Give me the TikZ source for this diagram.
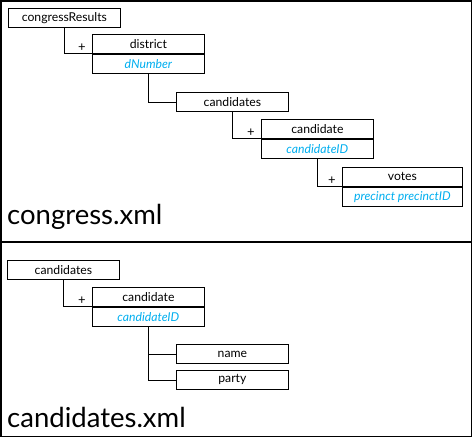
\documentclass[tikz,border=0pt]{standalone}
\usepackage{fontspec}
\setmainfont{Lato}
\usetikzlibrary{positioning}
\definecolor{keycyan}{RGB}{0,174,239}

\begin{document}
\begin{tikzpicture}[x=1pt,y=-1pt,
    elem/.style={draw,line width=0.8pt,minimum width=112pt,minimum height=19pt,inner sep=0pt,font=\fontsize{12.2}{13}\selectfont},
    attr/.style={elem,text=keycyan,font=\fontsize{12.2}{13}\selectfont\itshape},
    link/.style={line width=0.8pt},
    plus/.style={anchor=south east,inner sep=1pt,xshift=-5pt,yshift=1pt,font=\fontsize{13}{14}\selectfont},
    title/.style={anchor=base west,inner sep=0pt,font=\fontsize{27.5}{32}\selectfont}]
    \useasboundingbox (0,0) rectangle (472,437);
    \draw[line width=1.5pt] (0.75,0.75) rectangle (471.25,436.25);
    \draw[line width=1.2pt] (0,242) -- (472,242);

    % congress.xml
    \node[elem,anchor=north west] (congressResults) at (8,8) {congressResults};
    \node[elem,anchor=north west] (district) at (92,34) {district};
    \node[attr,below=0pt of district] (dNumber) {dNumber};
    \node[elem,anchor=north west] (candidates) at (176,92) {candidates};
    \node[elem,anchor=north west] (candidate) at (261,119) {candidate};
    \node[attr,below=0pt of candidate] (candidateID) {candidateID};
    \node[elem,anchor=north west,minimum width=120pt] (votes) at (342,167) {votes};
    \node[attr,minimum width=120pt,below=0pt of votes] (precinct) {precinct precinctID};
    \node[title] (congressXml) at (7,224) {congress.xml};

    \draw[link] (congressResults.south) |- (district.south west) node[plus] {+};
    \draw[link] (dNumber.south) |- (candidates.west);
    \draw[link] (candidates.south) |- (candidate.south west) node[plus] {+};
    \draw[link] (candidateID.south) |- (votes.south west) node[plus] {+};

    % candidates.xml
    \node[elem,anchor=north west] (candidatesB) at (7,260) {candidates};
    \node[elem,anchor=north west] (candidateB) at (92,287) {candidate};
    \node[attr,below=0pt of candidateB] (candidateIDB) {candidateID};
    \node[elem,anchor=north west] (name) at (176,344) {name};
    \node[elem,anchor=north west] (party) at (176,370) {party};
    \node[title] (candidatesXml) at (7,427) {candidates.xml};

    \draw[link] (candidatesB.south) |- (candidateB.south west) node[plus] {+};
    \draw[link] (candidateIDB.south) |- (party.west);
    \draw[link] (candidateIDB.south |- name.west) -- (name.west);
\end{tikzpicture}
\end{document}
